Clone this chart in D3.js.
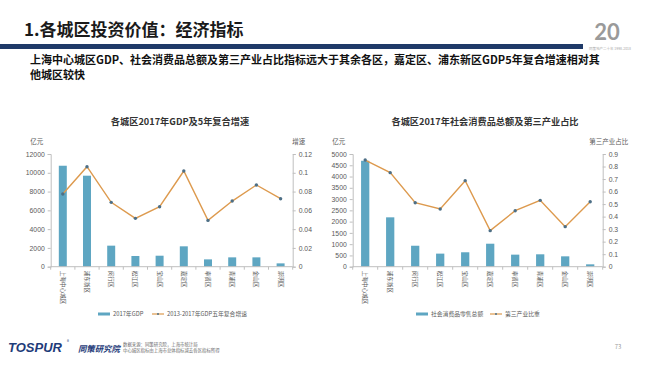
<!DOCTYPE html>
<html><head><meta charset="utf-8">
<script src="https://cdn.jsdelivr.net/npm/d3@7"></script>
<style>
html,body{margin:0;padding:0;background:#fff;}
svg{display:block;font-family:"Noto Sans CJK SC","Noto Sans",sans-serif;}
</style></head>
<body><svg id="c" width="650" height="365"></svg>
<script>
// ---- data ----
const districts = ["上海中心城区","浦东新区","闵行区","松江区","宝山区","嘉定区","奉贤区","青浦区","金山区","崇明区"];
const gdp2017 = [10750, 9690, 2240, 1140, 1170, 2170, 780, 995, 995, 355];
const gdpGrowth = [0.0774, 0.1065, 0.0685, 0.0515, 0.0639, 0.1019, 0.0493, 0.0699, 0.0870, 0.0724];
const retailSales = [4700, 2190, 930, 580, 640, 1020, 535, 550, 460, 105];
const tertiaryShare = [0.852, 0.751, 0.511, 0.461, 0.687, 0.288, 0.447, 0.530, 0.320, 0.519];
const gdpTicks = [0,2000,4000,6000,8000,10000,12000];
const growthTicks = [0,0.02,0.04,0.06,0.08,0.1,0.12];
const salesTicks = [0,500,1000,1500,2000,2500,3000,3500,4000,4500,5000];
const shareTicks = [0,0.1,0.2,0.3,0.4,0.5,0.6,0.7,0.8,0.9];

const svg = d3.select("#c");
const BAR = "#5ea6c2", LINE = "#dd9a4e", DOT = "#4d6f86", AX = "#bfbfbf", TXT = "#595959";

// ---- page header ----
svg.append("text").attr("x",24).attr("y",36).attr("font-size",17).attr("font-weight","bold")
  .attr("fill","#1a1a1a").text("1.各城区投资价值：经济指标");
svg.append("rect").attr("x",0).attr("y",44).attr("width",583).attr("height",5).attr("fill","#1f3a68");
svg.append("text").attr("x",30).attr("y",64).attr("font-size",11).attr("font-weight","bold").attr("fill","#111")
  .text("上海中心城区GDP、社会消费品总额及第三产业占比指标远大于其余各区，嘉定区、浦东新区GDP5年复合增速相对其");
svg.append("text").attr("x",30).attr("y",79).attr("font-size",11).attr("font-weight","bold").attr("fill","#111")
  .text("他城区较快");
// logo "20"
svg.append("text").attr("x",607).attr("y",40).attr("text-anchor","middle").attr("font-size",22)
  .attr("font-weight","bold").attr("fill","#9a9a9a").attr("font-family","Lato, sans-serif").text("20");
svg.append("text").attr("x",610).attr("y",50).attr("text-anchor","middle").attr("font-size",3.5)
  .attr("fill","#aaa").text("同策地产二十年 1998-2018");

// ---- chart builder ----
function chart(o){
  const g = svg.append("g");
  const x = d3.scaleBand().domain(districts).range([o.x0,o.x1]).paddingInner(0.67).paddingOuter(0.335);
  const yL = d3.scaleLinear().domain([0,o.lMax]).range([o.yb,o.yt]);
  const yR = d3.scaleLinear().domain([0,o.rMax]).range([o.yb,o.yt]);
  // titles
  g.append("text").attr("x",o.cx).attr("y",125).attr("text-anchor","middle").attr("font-size",9.2)
    .attr("font-weight","bold").attr("fill","#333").text(o.title);
  g.append("text").attr("x",o.x0-14).attr("y",144).attr("text-anchor","middle").attr("font-size",6.5)
    .attr("fill",TXT).text("亿元");
  g.append("text").attr("x",o.x1+6).attr("y",144).attr("text-anchor","middle").attr("font-size",6.5)
    .attr("fill",TXT).text(o.rTitle);
  // left axis
  const la = g.append("g").attr("transform",`translate(${o.x0},0)`)
    .call(d3.axisLeft(yL).tickValues(o.lTicks).tickSize(3).tickPadding(3).tickFormat(d=>d));
  la.select(".domain").attr("stroke",AX);
  la.selectAll(".tick line").attr("stroke",AX);
  la.selectAll("text").attr("font-size",6.8).attr("fill",TXT).attr("font-family","Liberation Sans, sans-serif");
  // right axis
  const ra = g.append("g").attr("transform",`translate(${o.x1},0)`)
    .call(d3.axisRight(yR).tickValues(o.rTicks).tickSize(3).tickPadding(3).tickFormat(d=>String(+d.toFixed(2))));
  ra.select(".domain").attr("stroke",AX);
  ra.selectAll(".tick line").attr("stroke",AX);
  ra.selectAll("text").attr("font-size",6.8).attr("fill",TXT).attr("font-family","Liberation Sans, sans-serif");
  // bars
  g.selectAll("rect.bar").data(o.bars).join("rect").attr("class","bar")
    .attr("x",(d,i)=>x(districts[i])).attr("width",x.bandwidth())
    .attr("y",d=>yL(d)).attr("height",d=>yL(0)-yL(d)).attr("fill",BAR);
  // x axis
  g.append("line").attr("x1",o.x0).attr("x2",o.x1).attr("y1",o.yb).attr("y2",o.yb).attr("stroke",AX);
  g.selectAll("line.xt").data(d3.range(districts.length+1)).join("line").attr("class","xt")
    .attr("x1",i=>o.x0+i*x.step()).attr("x2",i=>o.x0+i*x.step())
    .attr("y1",o.yb).attr("y2",o.yb+3).attr("stroke",AX);
  g.selectAll("text.xl").data(districts).join("text").attr("class","xl")
    .attr("transform",d=>`translate(${x(d)+x.bandwidth()/2-2},${o.yb+4}) rotate(90)`)
    .attr("font-size",5.6).attr("fill",TXT).text(d=>d);
  // line
  const cx = (d,i)=>x(districts[i])+x.bandwidth()/2;
  g.append("path").datum(o.line).attr("fill","none").attr("stroke",LINE).attr("stroke-width",1.4)
    .attr("d",d3.line().x(cx).y(d=>yR(d)));
  g.selectAll("circle.pt").data(o.line).join("circle").attr("class","pt")
    .attr("cx",cx).attr("cy",d=>yR(d)).attr("r",1.7).attr("fill",DOT);
  // legend
  const ly = 314;
  g.append("rect").attr("x",o.lg[0]).attr("y",ly-1.5).attr("width",12).attr("height",3).attr("fill",BAR);
  g.append("text").attr("x",o.lg[0]+15).attr("y",ly+2).attr("font-size",5.8).attr("fill",TXT).text(o.leg1);
  g.append("line").attr("x1",o.lg[1]).attr("x2",o.lg[1]+12).attr("y1",ly).attr("y2",ly).attr("stroke",LINE).attr("stroke-width",1.2);
  g.append("circle").attr("cx",o.lg[1]+6).attr("cy",ly).attr("r",1).attr("fill",DOT);
  g.append("text").attr("x",o.lg[1]+15).attr("y",ly+2).attr("font-size",5.8).attr("fill",TXT).text(o.leg2);
}

chart({x0:50.7,x1:292.7,yb:266.7,yt:154,lMax:12000,rMax:0.12,cx:180,
  title:"各城区2017年GDP及5年复合增速",rTitle:"增速",lTicks:gdpTicks,rTicks:growthTicks,
  bars:gdp2017,line:gdpGrowth,lg:[98,152],leg1:"2017年GDP",leg2:"2013-2017年GDP五年复合增速"});
chart({x0:352.7,x1:602.7,yb:266.7,yt:154,lMax:5000,rMax:0.9,cx:485,
  title:"各城区2017年社会消费品总额及第三产业占比",rTitle:"第三产业占比",lTicks:salesTicks,rTicks:shareTicks,
  bars:retailSales,line:tertiaryShare,lg:[416,490],leg1:"社会消费品零售总额",leg2:"第三产业比重"});

// ---- footer ----
svg.append("text").attr("x",8).attr("y",352).attr("font-size",13).attr("font-weight","bold").attr("font-style","italic")
  .attr("fill","#1f3c7a").attr("font-family","Liberation Sans, sans-serif").text("TOSPUR");
svg.append("text").attr("x",67).attr("y",343).attr("font-size",4).attr("fill","#1f3c7a").text("®");
svg.append("text").attr("x",78).attr("y",351.5).attr("font-size",8.4).attr("font-weight","bold").attr("font-style","italic")
  .attr("fill","#1f3c7a").text("同策研究院");
svg.append("text").attr("x",123).attr("y",346).attr("font-size",4.4).attr("fill","#666").text("数据来源：同策研究院，上海市统计局");
svg.append("text").attr("x",123).attr("y",352).attr("font-size",4.4).attr("fill","#666").text("中心城区指标由上海市总体指标减去各区指标所得");
svg.append("text").attr("x",618).attr("y",349).attr("text-anchor","middle").attr("font-size",6).attr("fill","#999").text("73");
</script></body></html>
